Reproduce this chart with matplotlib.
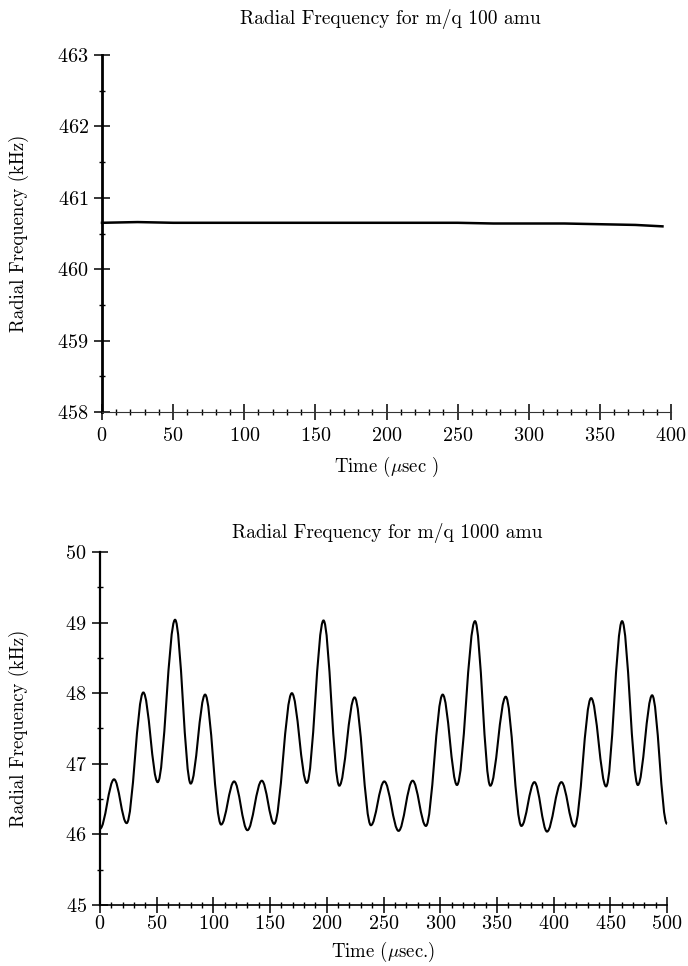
import matplotlib
matplotlib.use("Agg")
import matplotlib.pyplot as plt
from matplotlib.path import Path
from matplotlib.patches import PathPatch
from matplotlib.ticker import MultipleLocator

plt.rcParams['font.family'] = ['cmr10', 'DejaVu Serif']
plt.rcParams['mathtext.fontset'] = 'cm'
plt.rcParams['axes.formatter.use_mathtext'] = True

# ---- data: top panel (m/q 100 amu) ----
t_top = [0, 25, 50, 75, 100, 125, 150, 175, 200, 225, 250, 275, 300, 325, 350, 375, 394]
f_top = [460.65, 460.66, 460.65, 460.65, 460.65, 460.65, 460.65, 460.65, 460.65,
         460.65, 460.65, 460.64, 460.64, 460.64, 460.63, 460.62, 460.60]

# ---- data: bottom panel (m/q 1000 amu), turning points of the oscillation ----
t_bot = [0, 12.4, 23.5, 38.2, 50.9, 66.2, 80.0, 92.7, 106.8, 118.3, 130.0, 142.7,
         153.6, 169.2, 182.4, 197.1, 211.0, 224.5, 238.9, 250.7, 263.3, 275.7,
         287.4, 302.2, 314.8, 330.7, 344.2, 357.8, 371.6, 383.1, 394.2, 406.9,
         418.4, 433.1, 446.3, 460.4, 474.3, 486.9, 500.0]
f_bot = [46.08, 46.78, 46.16, 48.01, 46.74, 49.04, 46.72, 47.98, 46.14, 46.75, 46.06, 46.76,
         46.15, 48.00, 46.73, 49.03, 46.69, 47.94, 46.13, 46.75, 46.05, 46.76,
         46.12, 47.98, 46.70, 49.02, 46.69, 47.95, 46.12, 46.74, 46.04, 46.74,
         46.11, 47.93, 46.68, 49.02, 46.70, 47.97, 46.15]

top_title = "Radial Frequency for m/q 100 amu"
bot_title = "Radial Frequency for m/q 1000 amu"
ylab = "Radial Frequency (kHz)"
top_xlab = r"Time ($\mu$sec )"
bot_xlab = r"Time ($\mu$sec.)"

W, H = 688, 966
fig = plt.figure(figsize=(W / 100, H / 100), dpi=100)

def px_axes(l, t, r, b):
    return fig.add_axes([l / W, 1 - b / H, (r - l) / W, (b - t) / H])

ax1 = px_axes(102, 55, 671, 412)
ax2 = px_axes(100, 552, 667, 905)

def style(ax, xmax, xmaj, ymin, ymax, lw_left, lw_bottom, bottom_color, xpad):
    ax.set_xlim(0, xmax)
    ax.set_ylim(ymin, ymax)
    for s in ('top', 'right'):
        ax.spines[s].set_visible(False)
    ax.spines['left'].set_linewidth(lw_left)
    ax.spines['bottom'].set_linewidth(lw_bottom)
    ax.spines['bottom'].set_color(bottom_color)
    ax.xaxis.set_major_locator(MultipleLocator(xmaj))
    ax.xaxis.set_minor_locator(MultipleLocator(10))
    ax.yaxis.set_major_locator(MultipleLocator(1))
    ax.yaxis.set_minor_locator(MultipleLocator(0.5))
    ax.tick_params(which='major', direction='inout', length=11, width=1.1,
                   labelsize=14.5, colors='black')
    ax.tick_params(axis='x', which='major', pad=xpad)
    ax.tick_params(axis='y', which='major', pad=4)
    ax.tick_params(which='minor', direction='inout', length=4, width=1.0)
    for sp in ax.spines.values():
        sp.set_clip_on(False)

style(ax1, 400, 50, 458, 463, 2.0, 0.8, '#333333', 5)
style(ax2, 500, 50, 45, 50, 1.6, 1.2, 'black', 2)

ax1.plot(t_top, f_top, color='black', lw=1.8, clip_on=False)

# smooth curve through turning points (horizontal tangent at each one)
verts = [(t_bot[0], f_bot[0])]
codes = [Path.MOVETO]
k = 0.364
for i in range(1, len(t_bot)):
    x0, y0 = t_bot[i - 1], f_bot[i - 1]
    x1, y1 = t_bot[i], f_bot[i]
    dx = x1 - x0
    verts += [(x0 + k * dx, y0), (x1 - k * dx, y1), (x1, y1)]
    codes += [Path.CURVE4] * 3
ax2.add_patch(PathPatch(Path(verts, codes), facecolor='none', edgecolor='black',
                        lw=1.5, clip_on=False))

for ax, title, ty, xl, xly in ((ax1, top_title, 19, top_xlab, 467),
                                (ax2, bot_title, 533, bot_xlab, 952)):
    bb = ax.get_position()
    cx = (bb.x0 + bb.x1) / 2
    fig.text(cx + 4 / W, 1 - ty / H, title, ha='center', va='center', fontsize=14)
    fig.text(cx, 1 - xly / H, xl, ha='center', va='center', fontsize=13.5)
    fig.text(19 / W, (bb.y0 + bb.y1) / 2, ylab, rotation=90, ha='center',
             va='center', fontsize=13.5)

fig.savefig("out.png", dpi=100)
